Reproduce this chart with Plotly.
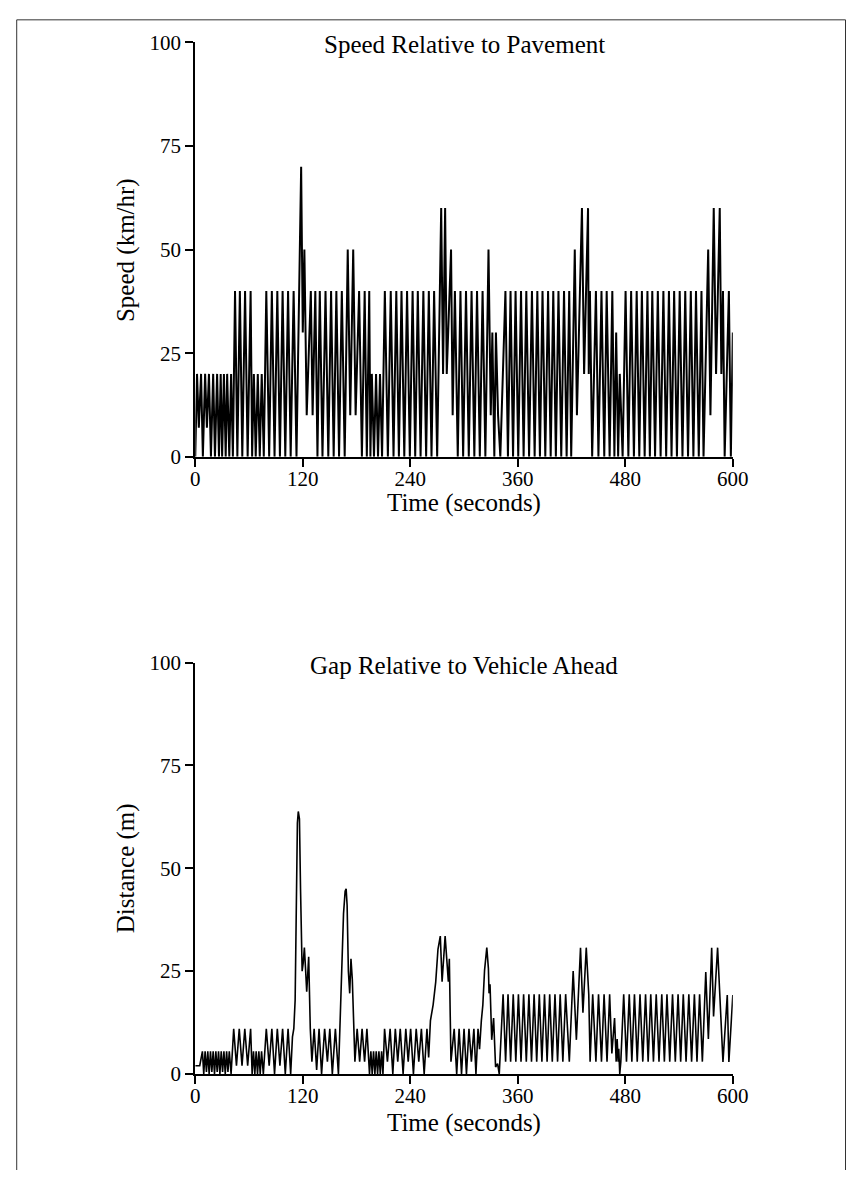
import plotly.graph_objects as go

# ---------------- data ----------------
x_ticks = [0, 120, 240, 360, 480, 600]
y_ticks = [0, 25, 50, 75, 100]

speed_t = [
    0, 2, 4, 6.5, 8.5, 11, 13, 15.3, 17.5, 20, 22, 24.4, 26.5, 28.4, 30, 32, 34, 35.6, 38, 40, 42,
    44.4, 47, 49.8, 52.5, 55.6, 58.5, 61.8, 63.5, 65.4, 67.5, 69.8, 72, 74.2, 76.5,
    79.3, 82.5, 85.5, 88.5, 91.6, 94.5, 97.5, 100.5, 103.6, 106.5, 109.8, 113, 118.2, 120, 121.8, 124.4,
    129, 131, 134, 136.4, 139, 142,
    145.4, 148.5, 151.6, 154.5, 157.5, 160.5, 163.6, 166.8, 170.2, 173, 176.3, 179, 182.9, 186,
    189.1, 191.5, 194.2, 195.5, 197.1, 199.5, 201.8, 204, 206.2, 208.5,
    211.6, 215, 218.2, 221.3, 224.4, 227.3, 230.2, 233.3, 236.4, 239.5, 242.6, 245.5, 248.4, 251.5,
    254.6, 257.7, 260.7, 263.7, 266.6, 270,
    274.5, 276.6, 278.9, 280.7, 285.5, 287.3, 289.8, 293, 296, 299, 302.2, 305.3, 308.4, 311.5,
    314.5, 317.6, 320.7, 323.8, 327.3, 329.8, 331.6, 333.8, 335.6, 338, 340.5,
    346.2, 349, 351.9, 354.7, 357.5, 360.5, 363.6, 366.5, 369.5, 372.6, 375.8, 378.8, 381.8, 384.7,
    387.6, 390.7, 393.8, 396.7, 399.6, 402.5, 405.4, 408.5, 411.6, 414.5, 417.4, 419.6,
    423.6, 426, 431.6, 434, 438.4, 439.2, 440.5, 443, 447.2, 450, 453.4, 456.5, 459.2, 462.5,
    465.5, 467.8, 469.8, 472, 473.8, 477,
    480.3, 483.4, 486.5, 489.6, 492.7, 495.6, 498.5, 501.6, 504.7, 507.4, 510.1, 513.2, 516.3, 519.4,
    522.5, 525.6, 528.7, 531.6, 534.5, 537.6, 540.7, 543.8, 546.9, 550, 553.1, 556, 558.9, 562,
    565, 567.3,
    572.5, 575, 578.7, 581.3, 585.4, 587.2, 589, 590.9, 595.6, 597.8, 600,
]
speed_v = [
    0, 20, 7, 20, 0, 20, 7, 20, 0, 20, 0, 20, 0, 20, 0, 20, 0, 20, 0, 20, 0,
    40, 0, 40, 0, 40, 0, 40, 0, 20, 0, 20, 0, 20, 0,
    40, 0, 40, 0, 40, 0, 40, 0, 40, 0, 40, 0, 70, 30, 50, 10,
    40, 10, 40, 0, 40, 0,
    40, 0, 40, 0, 40, 0, 40, 0, 50, 10, 50, 10, 40, 0,
    40, 0, 40, 0, 20, 0, 20, 0, 20, 0,
    40, 0, 40, 0, 40, 0, 40, 0, 40, 0, 40, 0, 40, 0,
    40, 0, 40, 0, 40, 0,
    60, 20, 60, 20, 50, 10, 40, 0, 40, 0, 40, 0, 40, 0,
    40, 0, 40, 0, 50, 10, 30, 0, 30, 10, 0,
    40, 0, 40, 0, 40, 0, 40, 0, 40, 0, 40, 0, 40, 0,
    40, 0, 40, 0, 40, 0, 40, 0, 40, 0, 40, 0,
    50, 10, 60, 20, 60, 20, 40, 0, 40, 0, 40, 0, 40, 0,
    40, 0, 30, 0, 20, 0,
    40, 0, 40, 0, 40, 0, 40, 0, 40, 0, 40, 0, 40, 0,
    40, 0, 40, 0, 40, 0, 40, 0, 40, 0, 40, 0, 40, 0,
    40, 0,
    50, 10, 60, 20, 60, 20, 40, 0, 40, 0, 30,
]

gap_t = [
    0, 5, 8, 9.5, 11, 12.5, 14, 15.5, 17, 18.5, 20, 21.5, 23, 24.5, 26, 27.5, 29, 30.5, 32, 33.5,
    35, 36.5, 38, 40,
    42.9, 46, 49.1, 52.2, 55.3, 58.5, 61.8, 63.5, 65, 66.5, 68, 69.5, 71, 72.5, 74, 76,
    79.3, 82.5, 85.5, 88.5, 91.6, 94.5, 97.5, 100.5, 103.6, 106.5,
    108.5, 110, 111.5, 113, 114, 115, 116.3, 117.5, 119.3, 120.5, 121.8, 123, 124.4, 125.5, 126.6,
    128.4, 130.2,
    132.7, 135.5, 138.2, 141, 144.4, 147.5, 150.2, 153, 156.4, 159.8,
    161.8, 163.6, 165.5, 167.3, 168.4, 169.5, 170.9, 172.4, 173.8, 175.3, 177, 178.2,
    180.7, 183.5, 186.2, 189, 191.6, 194.5, 196, 197.5, 199, 200.5, 202, 203.5, 205, 206.5, 208,
    209.5, 211.3, 214.5, 217.5, 220.5, 223.3, 226, 228.8, 232, 235, 237.7, 240.4, 243.5, 246.6,
    249.5, 252.4, 255.5, 258.6, 260.5,
    262.5, 265.5, 268.4, 270.9, 273.5, 275.5, 278.9, 280.7, 282.5, 283.6, 285.4,
    289, 291.8, 294.5, 297.2, 300, 302.7, 305.5, 308.2, 311, 313.3, 315.6, 317.3,
    319.3, 321, 322.9, 325.4, 327.2, 327.9, 329, 330.9, 333, 335.2, 337.4, 339.3,
    343.6, 346.4, 349.1, 352, 354.9, 357.8, 360.7, 363.6, 366.5, 369.5, 372.4, 375.3, 378.2, 381.1,
    384, 386.9, 389.8, 392.7, 395.6, 398.5, 401.5, 404.4, 407.3, 410.3, 413.4, 417.5,
    421.8, 425.4, 430, 432.7, 436.4, 439.2, 440.7, 443.6, 447.2, 450.1, 453.4, 456.3, 459.6, 462.5,
    465, 468, 469.8, 470.9, 472, 472.7, 473.8, 475,
    478.2, 481.3, 484.4, 487.3, 490.2, 493.3, 496.4, 499.5, 502.6, 505.5, 508.4, 511.4, 514.5, 517.6,
    520.7, 523.6, 526.5, 529.6, 532.7, 535.8, 538.9, 541.8, 544.7, 547.8, 550.9, 554, 557.1, 560,
    562.9, 566,
    569.8, 572.7, 576.4, 578.5, 583, 585.5, 589, 593.8, 595.6, 600,
]
gap_v = [
    2, 2, 5.5, 0, 5.5, 0.5, 5.5, 0, 5.5, 0.5, 5.5, 0, 5.5, 0.5, 5.5, 0, 5.5, 0.5, 5.5, 0,
    5.5, 0.5, 5.5, 0,
    11, 2, 11, 2, 11, 2, 11, 0, 5.5, 0, 5.5, 0, 5.5, 0, 5.5, 0,
    11, 2, 11, 0, 11, 2, 11, 0, 11, 0,
    9, 11, 18, 45, 61, 63.8, 62, 45, 25, 27, 30.7, 26, 20, 24, 28.5,
    11, 3,
    11, 1, 11, 0, 11, 3, 11, 0, 11, 0,
    13.6, 26.3, 39, 44.4, 45, 41, 25, 19.6, 28, 23, 7.3, 3,
    11, 3, 11, 3, 11, 0, 5.5, 0, 5.5, 0, 5.5, 0, 5.5, 0, 5.5,
    0, 11, 3, 11, 0, 11, 3, 11, 0, 11, 3, 11, 0, 11,
    3, 11, 0, 11, 4,
    13, 16.8, 22.4, 30.3, 33.5, 22.4, 33.5, 27.8, 22.4, 28, 3,
    11, 0, 11, 0, 11, 0, 11, 3, 11, 0, 11, 6,
    12.9, 16.8, 25.2, 30.7, 25.6, 19.6, 21.8, 8.3, 13.6, 1.7, 2.5, 0,
    19.4, 3, 19.4, 3, 19.4, 3, 19.4, 3, 19.4, 3, 19.4, 3, 19.4, 3,
    19.4, 3, 19.4, 3, 19.4, 3, 19.4, 3, 19.4, 3, 19.4, 3,
    25, 8.3, 30.7, 14.9, 30.7, 19.4, 3, 19.4, 3, 19.4, 3, 19.4, 3, 19.4,
    5, 13.6, 3, 8.5, 3, 6.1, 0, 3,
    19.4, 3, 19.4, 3, 19.4, 3, 19.4, 3, 19.4, 3, 19.4, 3, 19.4, 3,
    19.4, 3, 19.4, 3, 19.4, 3, 19.4, 3, 19.4, 3, 19.4, 3, 19.4, 3,
    19.4, 3,
    24.8, 8.5, 30.7, 14, 30.7, 19.2, 2.9, 19.2, 2.9, 19.2,
]

# ---------------- figure ----------------
W, H = 862, 1182
FONT = "Liberation Serif, Times New Roman, serif"


def px(x):
    return x / W


def py(y):
    return 1 - y / H


fig = go.Figure()
fig.add_trace(go.Scatter(x=speed_t, y=speed_v, mode="lines",
                         line=dict(color="black", width=2),
                         xaxis="x", yaxis="y", showlegend=False, hoverinfo="skip"))
fig.add_trace(go.Scatter(x=gap_t, y=gap_v, mode="lines",
                         line=dict(color="black", width=1.6),
                         xaxis="x2", yaxis="y2", showlegend=False, hoverinfo="skip"))

x_dom = [px(195), px(746)]
common = dict(showgrid=False, zeroline=False, showline=True, linewidth=2, linecolor="black",
              ticks="outside", ticklen=8, tickwidth=2, tickcolor="black",
              tickfont=dict(family=FONT, size=21, color="black"))
xcommon = dict(common, ticklabelstandoff=-6)

fig.update_layout(
    width=W, height=H,
    margin=dict(l=0, r=0, t=0, b=0),
    paper_bgcolor="white", plot_bgcolor="white",
    showlegend=False,
    xaxis=dict(domain=x_dom, range=[0, 600], tickvals=x_ticks, anchor="y", **xcommon),
    yaxis=dict(domain=[py(454), py(31)], range=[0, 100], tickvals=y_ticks, anchor="x", **common),
    xaxis2=dict(domain=x_dom, range=[0, 600], tickvals=x_ticks, anchor="y2", **xcommon),
    yaxis2=dict(domain=[py(1084), py(664)], range=[0, 100], tickvals=y_ticks, anchor="x2", **common),
)

tfont = dict(family=FONT, size=25, color="black")
cx = px((195 + 746) / 2)
ann = [
    dict(text="Speed Relative to Pavement", x=cx, y=py(33)),
    dict(text="Gap Relative to Vehicle Ahead", x=cx, y=py(667)),
    dict(text="Time (seconds)", x=cx, y=py(501)),
    dict(text="Time (seconds)", x=cx, y=py(1134)),
    dict(text="Speed (km/hr)", x=px(124), y=py(243), textangle=-90),
    dict(text="Distance (m)", x=px(124), y=py(874), textangle=-90),
]
for a in ann:
    fig.add_annotation(xref="paper", yref="paper", showarrow=False,
                       xanchor="center", yanchor="middle", font=tfont, **a)

# outer frame (left, top and right edges)
frame = dict(color="#333333", width=1)
fig.add_shape(type="line", xref="paper", yref="paper", x0=px(12), x1=px(12), y0=py(8), y1=0, line=frame)
fig.add_shape(type="line", xref="paper", yref="paper", x0=px(12), x1=px(861.5), y0=py(8), y1=py(8), line=frame)
fig.add_shape(type="line", xref="paper", yref="paper", x0=px(861.5), x1=px(861.5), y0=py(8), y1=0, line=frame)

fig.write_html("out.html")
